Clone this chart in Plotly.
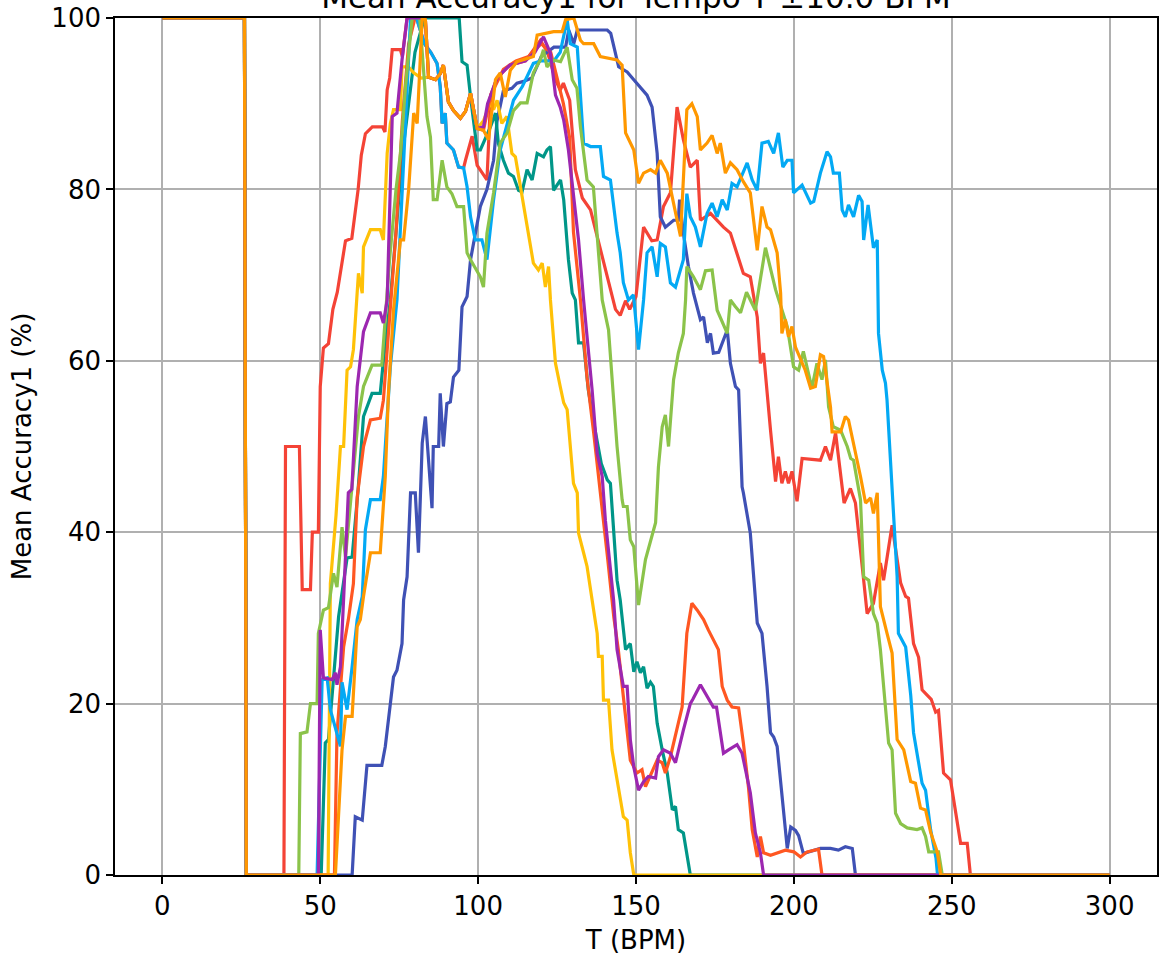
import plotly.graph_objects as go

# ---- data (x in BPM, y in %) ----
red_x = [0,26,26.6,38.5,39,43.4,44.3,46.9,47.5,49.4,50,51,52.6,54,55.4,57,58,60,61,62,63,64.3,66.5,69.7,70.5,71.2,72,72.8,75.4,76,77.5,80.5,83,85,87,88,88.6,89.6,90.1,92.2,93.8,95.4,96,98.1,99.7,102.8,104,106,110,115,119.7,122,124.5,126,127,129,130.8,133,135.6,138.7,141.9,143.5,145,146.7,148,150,152.4,153.5,155,156.7,158.7,160.9,163,165,167.2,169.4,170.4,173.6,177.7,179.9,184,186.2,188.4,189.4,190.4,192.6,194.2,195.1,196.2,197.3,198.3,199.4,201,202.6,208.4,210,211.6,213.2,215.9,217.9,219.5,222.1,223.2,225.2,227.4,228.4,231.1,233.8,235.4,236.3,237.9,239.5,240.6,242.2,243.5,244.9,245.8,247.4,249.6,252.8,254.9,255.9,300]
red_y = [100,100,0,0,50,50,33.3,33.3,40,40,57,61.5,62,66,68,72,74,74.3,77,80,84,86.5,87.3,87.3,86.7,91.6,93,96.3,96.3,95.5,100,100,97,96,94.7,92,87.7,88.9,85.4,84.6,82.6,82.5,83.4,86.2,82.8,81.1,91,93,94.5,95,97.4,96,92.8,91.6,92.4,90.4,82.3,79,77.6,73,68.3,66,65.3,67,66,67.5,75.6,74.9,74,74.1,78,79.6,89.6,85.8,82.6,83.4,76.4,77.2,75.6,74.9,70.2,69.8,65.1,59.7,60.9,51.9,45.9,48.8,45.7,47.1,45.7,47.1,43.6,48.6,48.4,50,48.4,51.6,43.4,45.1,43.4,34.4,30.5,31.7,36.4,34.4,40.8,34.1,32.5,32.3,27,25.4,21.6,21,20.5,19,19.2,11.9,11.1,3.7,3.7,0,0]

indigo_x = [0,26,26.6,60.1,61.1,63.3,64.8,69.5,70.6,73.2,74.3,75.9,76.4,77.5,78.6,80.1,81.1,82.3,83.3,85.4,85.8,87.5,88,89,90.1,91.2,92.2,93.9,94.9,96.5,97.6,100.7,102.8,104.9,106,108,110.7,112.3,114.4,117,120,124,127.7,128.7,130.3,131.4,140.9,142,144.5,147.2,149.3,153.5,155.1,156.7,157.7,159.3,161.9,163.4,163.8,165,166.6,168.2,170.4,171.4,172.6,173.6,174.5,176.2,178.9,179.9,181.5,182.5,183.6,184,186.2,187.8,188.4,189.9,191.5,192.6,193.6,194.7,196.7,197.9,199,200.5,201.5,203,208.4,211.6,214.1,216.3,218.5,219.5,300]
indigo_y = [100,100,0,0,6.8,6.4,12.8,12.8,15,23.1,23.9,27,32.1,34.8,44.6,44.6,37.6,50.4,53.5,42.8,50,50,56.2,50,55,55.2,58.1,58.9,66.3,67.5,71.8,78,80,83.4,88,91.5,91.8,92.4,92.6,93,95.5,96.6,96.6,98.6,97,98.6,98.6,98.2,94.3,93.7,92.8,91,89.6,84.2,76.8,75.6,76.4,76.4,78.8,74.9,71,67.9,64.8,65.1,62.1,63.2,60.9,61,63.6,59.7,57,56.6,45.3,44.6,39.9,32.1,29.4,28.2,22,16.6,16.1,15,7.2,3.1,5.6,5.2,4.6,2.5,3.1,3.1,2.9,3.3,3.1,0,0]

teal_x = [0,26,26.6,50.3,51.6,52.6,54,55.3,55.8,58.5,60.1,62,63.7,66.4,69,70,72.2,74,76,78,80,83,94,94.9,96.5,97.6,99.7,100.7,103.9,105.5,106.4,108,109.6,111.2,112.8,113.9,115.5,117.1,118.7,120.7,121.8,122.9,123.9,126.1,127.1,128.6,129.8,130.8,131.8,133.4,134.9,137,139,140.9,141.9,144,145,146.7,148.2,149.3,150.3,151.4,152.4,153.5,154.6,155.5,156.7,158.3,159.9,161.5,162.5,163.4,165,167.2,300]
teal_y = [100,100,0,0,15.4,15.8,22,28.2,30.1,37,37.1,45,53.5,56.2,56.2,60,67.1,75,84,90,96,100,100,94.9,94.5,90.8,84.6,84.6,87.3,88.9,85.4,83.4,81.9,81.5,79.9,79.7,82.3,81.1,84.2,83.8,84.6,85,79.9,81.1,78.8,71.8,67.9,67.1,62.1,62.1,56.6,52,48,46.1,45.7,34.4,32.1,26.3,27,23.7,24.9,23.6,24.3,21.8,22.5,22,17.7,14.6,11.9,7.6,8,5.3,4.9,0,0]

amber_x = [0,26,26.6,52.5,53.2,55,56.4,57.4,58.5,59.6,60.5,61.7,62.1,63.3,63.7,65.9,69,70,71.2,72.2,73.2,75.4,75.9,77.9,79.6,82,84.3,86.5,88,89,90.6,92.2,94.4,96,97.6,99.7,101.7,103.9,104.9,106,107.5,109.1,110.7,111.8,113.4,114.4,115.9,117.5,119.1,120.3,121.3,122.3,122.9,124.5,126,127.1,128.2,129.2,130.2,131.4,131.8,133.4,134.5,136.1,137.7,138.1,139.3,139.7,141.3,142.4,144.4,146,147.2,148.2,149.3,300]
amber_y = [100,100,0,0,34,42,50,50,58.9,59.3,61.3,67.1,70.2,67.9,73.3,75.3,75.3,74.1,84.2,87.7,89.3,89.3,94.3,94.3,93.6,93,93.1,92.8,93.5,94.5,90.2,89.2,88.3,89.1,91.2,87.1,88,90.1,89.3,90.4,87.7,88.5,84.2,83.8,80.3,78,74.5,71.4,70.6,71.4,68.6,71,67.1,59.7,57,55.1,54.3,49.6,45.7,44.6,39.9,37.6,36,32.1,28.2,25.5,25.5,20.4,20.4,14.6,10.3,6.8,6.4,2.6,0,0]

dorange_x = [0,26,26.6,54.5,55.3,57.4,58.9,60.5,61.7,63.7,65.9,69,70,72,74,76,78,80,82.3,83.3,84.3,86.5,88,89,90.6,92.2,94.4,96,97.6,99.7,101.7,104,108,112,116,120,123,125,127,129,130.2,132.4,134.5,136.6,139,141,143,144.4,146,148.2,150.3,151.9,153,154.5,156.7,158.3,159.3,160.9,163,164.6,166.1,167.7,169.4,171.4,172.9,174.5,176.1,177.3,178.9,180.4,182.5,184,185.6,186.8,188.4,189.4,190.4,192.6,194.7,197.3,200,202.1,204.2,206.3,207.8,208.9,300]
dorange_y = [100,100,0,0,16.5,26.6,29.8,34,44.1,50,53.1,53.3,55.4,65,75,88,97,100,100,99.8,93.1,92.8,93.5,94.5,90.2,89.2,88.3,89.1,91.2,87.1,86.9,91,94,95,95.5,97,96,93,90,86,75,67.1,58,51.6,44,37,30,26.3,20.8,13.4,11.9,12.3,10.3,11.5,13.4,13.1,11.9,13.8,16.9,19.6,28.2,31.7,30.9,29.8,28.6,27.4,26.3,22,20.4,19.6,19.5,15.4,10.3,5.3,2.1,4.5,2.6,2.3,2.6,2.9,2.7,2.1,2.7,2.9,3,0,0]

lblue_x = [0,26,26.6,49,50.6,52.2,53.2,56.4,56.9,58.5,60,61.7,63.3,64.3,65.9,69,70,72.2,74.3,76,78.6,80.5,83,85,87,88,88.6,89.6,90.1,92.2,93.8,95.4,96.5,97.6,99.1,101.2,102.8,104.9,107,111.2,114,117.5,120,124,126,128.2,129.2,131.4,133.4,135.6,138.7,139.7,141.9,144,145,146,147.6,149.2,150.8,152.4,153.5,155.1,156.7,157.7,159.3,160.9,162.5,165,166.1,167.2,168.8,170.4,172.5,174.1,175.7,177.3,178.9,180.4,182,185.2,186.8,188.4,189.9,191.9,193.6,195.1,196.5,197.9,199.4,199.9,202.6,205.3,206.3,208.4,210.5,211.6,212.5,214.4,215.3,216.3,217.3,218.9,220.5,221.6,222.1,223.5,225.2,226.4,226.8,228,229,229.5,231.1,232.7,233.1,235.4,237,237.9,240.6,241.7,243.3,245,245.5,300]
lblue_y = [100,100,0,0,22.8,23,19.3,15,22.5,19.3,24,29.8,32.5,40.3,43.8,43.8,46.5,59.3,67.1,80,100,100,97,96,94.7,92,87.7,88.9,85.4,84.6,82.6,82.5,80.3,76.8,74.1,74.1,71.8,78.8,84.6,90.4,92,94.7,95,95,96,99.8,97,96.6,85.4,85,85,81.5,81.1,74.9,72.6,69.1,67.1,67.7,61.3,67.1,72.6,73.3,69.8,73.7,73.3,69.1,68.6,71.8,79.5,76.8,75.6,73.3,77.2,78.4,76.8,78.8,77.6,80.7,80.3,83.1,81.1,79.9,85.4,85.6,84.2,86.6,82.6,83.4,83.4,79.6,80.5,78.4,78.6,81.9,84.4,83.8,81.9,81.9,77.6,76.8,78.2,76.8,79.3,78.6,74.1,78.2,73.2,74.1,63.2,58.9,57.4,55.4,45.7,34.8,28.2,26.6,21,16.6,10.7,9.9,5.3,2,0,0]

lgreen_x = [0,26,26.6,43.2,43.7,45.8,46.9,49,49.4,51,52.6,53.2,54.2,55.3,56.9,58,58.9,60.5,62.1,63.7,66.4,69.5,70.6,72,74,75.4,77,79.1,81.5,83.8,84.9,85.8,87,88.6,90.1,91.7,93.3,95.4,96.5,97.6,100.7,101.7,102.8,104.9,107,109.2,111.2,113.4,115.5,117.5,119.7,120.7,121.8,123.9,126.1,128.2,129.8,131.3,132.4,133.4,134.5,136.5,137.7,138.7,139.3,141.3,144,145.6,146,147.2,148.2,149.3,150.8,153,154.6,156.2,157.1,158.3,159.3,160.3,161.9,163.4,165,165.7,166.1,168.2,170.4,172,174.1,175.7,178.9,179.9,181.5,183.1,185,187.8,191,194.2,197.9,199.9,201.5,203,205.7,207.3,208.9,210,211,212.5,214.8,216.9,218,218.9,221.1,222.1,223.7,225.2,226.4,227.4,230,231.1,232.2,233.8,235.9,239,240.6,241.7,242.7,245.8,247,300]
lgreen_y = [100,100,0,0,16.5,16.7,20,20,28.2,30.9,31.2,32.9,35.2,33.6,40.6,37.1,40.6,47,53.5,57,59.5,59.5,64.8,72,80,84.2,92,100,100,88.5,86.1,78.8,78.8,83.4,80.3,79.5,78,78,72.6,71.8,69.8,68.6,74.9,79.6,85.4,86.6,89.2,90.1,90.1,93.6,95.1,96.3,94.3,95.1,94.9,96.6,92.8,91.8,87.3,84.6,81.1,80.3,74.9,70.2,67.1,63.6,50,43.8,43,43,39.1,38.3,31.5,36.8,39.1,41.1,47.6,52.3,53.7,50,57.8,60.9,63.2,67.1,71,69.8,68.3,70.5,70.6,65.9,63.2,67.1,66.3,65.6,68,65.9,73.2,68.3,64,59.3,58.9,61.1,56.8,59.7,57.8,60.1,54.6,52.3,51.9,50,48.6,48.4,43.8,34.8,34.4,30.5,29.4,26.3,15.4,14.6,7.2,6,5.5,5.3,5.5,4.5,2.7,2.7,0,0]

purple_x = [0,26,26.6,49.4,50,51,53.8,54.8,55.3,56.4,57.5,58,58.9,60,61.7,63.7,65.9,69,70,71.2,72.2,72.8,74.3,75.9,77.5,79,82.3,83.3,84.3,86.5,88,89,90.6,92.2,94.4,96,97.6,99.7,101.7,103,106,110,115,118,120.7,122.9,124.5,126,127.1,128.6,130.2,131.8,133.4,136.1,137.7,139.3,140.3,141.9,142.9,144,146,147.2,148.2,149.3,150.8,152.4,153.9,156.2,157.1,158.7,160.9,162.5,163.4,165,167.2,168,170.4,172.5,174.5,175.5,177.7,179.3,182,183.6,186.2,187.8,189.4,190.4,300]
purple_y = [100,100,0,0,28.6,23,22.8,23.6,22.2,24.3,33,36.8,44.6,45,57,63.4,65.6,65.6,64.4,67.1,80,88.5,88.9,95.1,100,100,100,99.8,93.1,92.8,93.5,94.5,90.2,89.2,88.3,89.1,91.2,87.1,87.3,90,93,94.5,95,96,97.8,95.9,91,89.6,88.1,84.6,79.6,74.1,67.1,56.6,49.2,46.5,41.4,35.2,32.1,26.3,22,22,15.8,12.6,9.9,10.9,11.5,11.3,13.8,14.6,14.2,13.1,14.6,16.9,20,20.5,22.2,20.8,19.6,19.6,14.2,14.6,15.2,14.2,9.6,4.9,2.6,0,0]

orange_x = [0,26,26.6,54.8,56.9,58,60.1,61.7,62.7,63.7,65.9,69,70.6,71.6,73.2,75.4,76.4,78,79.6,80.7,82.3,83.3,84.3,86.5,88,89,90.6,92.2,94.4,96,97.6,99.7,101.7,103.3,105.5,107,108.6,110.2,112.3,115.5,117.5,118.7,123.9,126.6,127.7,130.3,132.4,133.4,136.6,138.7,144,145.6,146.7,149.3,150.8,152.4,154.6,156.2,157.7,159.9,161,163.4,164.1,166.1,167.7,169.4,170.4,172.5,174.1,175.7,176.7,178.3,179.9,182,184,186.2,188.4,189.9,191.5,192.6,194.7,195.8,196.2,197.3,198.3,199.4,200.5,203.6,205.3,206.8,208.4,209.4,210.5,211.6,212.1,214.8,216.3,217.3,221.1,222.7,224.3,225.2,226.4,227.4,229.5,231.1,232.7,234.8,237,238.5,240.1,241.7,243.3,245.4,246.5,300]
orange_y = [100,100,0,0,14.6,18.5,18.5,29,29.8,32.5,37.6,37.6,46.5,56.2,65.9,74.1,74.1,80,88.9,87.7,100,99.8,93.1,92.8,93.5,94.5,90.2,89.2,88.3,89.1,91.2,87.1,86.9,85.8,92.8,93.6,90.8,93.9,94.9,95.3,95.5,98,98.4,98.4,99.8,100,97.4,97,97,95.5,95.1,94.5,86.6,84.6,80.7,81.9,82.3,81.9,83.4,81.9,80,75.6,74.5,89.3,90,88.5,84.6,85.4,86.3,84.2,85.4,81.9,83.1,82.3,80.9,79.6,72.9,78,75.6,75.3,72.6,67.9,63.2,64.8,62.8,64,61.6,58.9,56.8,57,60.7,60.5,57.8,54.6,51.7,51.7,53.5,53.1,46.5,43.4,44,42.2,44.6,31.3,28.2,25.9,15.8,14.6,10.9,10.7,7.8,7.6,5,2.7,0,0]

series = [
    (red_x, red_y, "#F44336"),
    (indigo_x, indigo_y, "#3F51B5"),
    (teal_x, teal_y, "#009688"),
    (amber_x, amber_y, "#FFC107"),
    (dorange_x, dorange_y, "#FF5722"),
    (lblue_x, lblue_y, "#03A9F4"),
    (lgreen_x, lgreen_y, "#8BC34A"),
    (purple_x, purple_y, "#9C27B0"),
    (orange_x, orange_y, "#FF9800"),
]

x_ticks = [0, 50, 100, 150, 200, 250, 300]
y_ticks = [0, 20, 40, 60, 80, 100]

fig = go.Figure()
for xs, ys, c in series:
    fig.add_trace(go.Scatter(x=xs, y=ys, mode="lines",
                             line=dict(color=c, width=3.2), hoverinfo="skip"))

axis_common = dict(showgrid=True, gridcolor="#b0b0b0", gridwidth=1.5,
                   showline=True, linecolor="black", linewidth=1.6, mirror=True,
                   ticks="outside", ticklen=7, tickwidth=1.6, tickcolor="black",
                   zeroline=False, automargin=False,
                   tickfont=dict(size=26, color="black"))

fig.update_layout(
    width=1167, height=955,
    margin=dict(l=115, r=10, t=18, b=80, autoexpand=False),
    plot_bgcolor="white", paper_bgcolor="white",
    showlegend=False,
    font=dict(family="DejaVu Sans", size=26, color="black"),
    title=dict(text="Mean Accuracy1 for Tempo T \u00b110.0 BPM",
               font=dict(size=31, color="black"),
               x=0.545, xanchor="center", xref="container",
               y=0.9916, yanchor="bottom", yref="container", automargin=False),
    xaxis=dict(range=[-15, 315], tickvals=x_ticks,
               title=dict(text="T (BPM)", standoff=12, font=dict(size=26)),
               **axis_common),
    yaxis=dict(range=[0, 100], tickvals=y_ticks,
               title=dict(text="Mean Accuracy1 (%)", standoff=12, font=dict(size=26)),
               **axis_common),
)

fig.write_html("out.html", config={"displayModeBar": False},
               post_script="document.body.style.margin='0';")
